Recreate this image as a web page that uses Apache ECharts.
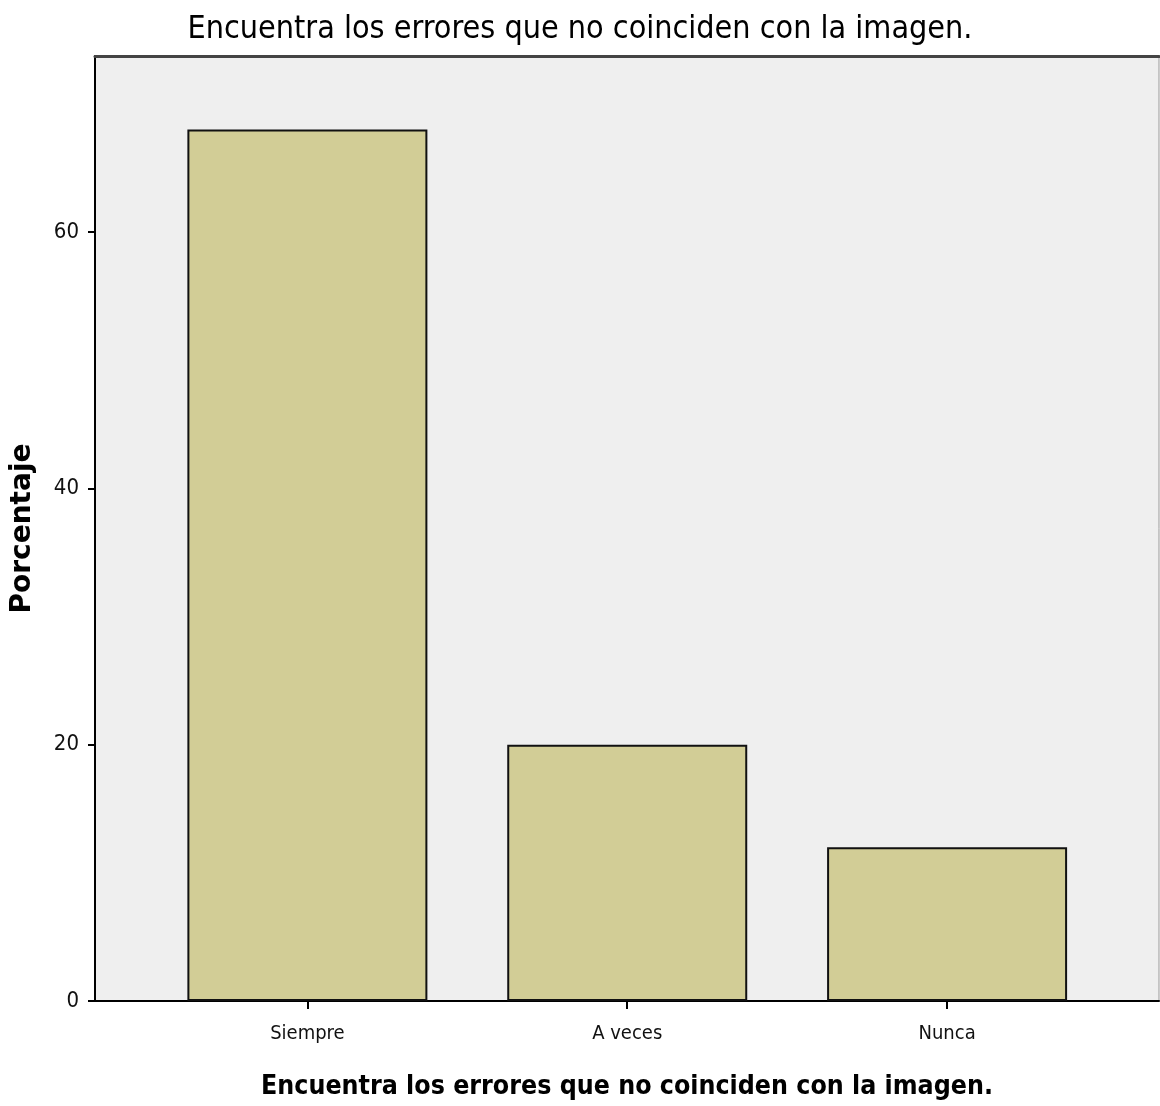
<!DOCTYPE html>
<html><head><meta charset="utf-8">
<script src="https://cdn.jsdelivr.net/npm/echarts@6/dist/echarts.min.js"></script>
<style>html,body{margin:0;padding:0;background:#fff}#c{width:1160px;height:1106px}</style>
</head><body><div id="c"></div>
<script>
const categories = ['Siempre', 'A veces', 'Nunca'];
const values = [68, 20, 12];
const yTicks = [0, 20, 40, 60];
const titleText = 'Encuentra los errores que no coinciden con la imagen.';
const xName = 'Encuentra los errores que no coinciden con la imagen.';
const yName = 'Porcentaje';

const NARROW = "'Liberation Sans Narrow', 'Arial Narrow', 'DejaVu Sans Condensed', 'Liberation Sans', sans-serif";
const chart = echarts.init(document.getElementById('c'));
const idx = categories.map((c, i) => i);
chart.setOption({
  animation: false,
  backgroundColor: '#ffffff',
  title: {
    text: titleText, left: 'center', top: 9,
    textStyle: { fontFamily: NARROW, fontSize: 32, fontWeight: 'normal', color: '#000' }
  },
  grid: { left: 95, right: 1, top: 56, bottom: 105, show: true, backgroundColor: '#efefef', borderColor: '#999', borderWidth: 1 },
  xAxis: [{
    type: 'value', min: -0.664, max: 2.6625,
    name: xName, nameLocation: 'middle', nameGap: 73,
    nameTextStyle: { fontFamily: NARROW, fontSize: 26.5, fontWeight: 'bold', color: '#000' },
    axisLine: { show: true, onZero: false, lineStyle: { color: '#000', width: 2 } },
    axisTick: { show: true, customValues: idx, length: 8, lineStyle: { color: '#000', width: 2 } },
    axisLabel: { customValues: idx, margin: 23, formatter: v => categories[Math.round(v)] || '',
      fontFamily: NARROW, fontSize: 20, color: '#111' },
    splitLine: { show: false }
  }, {
    type: 'value', min: -0.664, max: 2.6625, position: 'top',
    axisLine: { show: true, onZero: false, lineStyle: { color: '#444', width: 3 } },
    axisTick: { show: false }, axisLabel: { show: false }, splitLine: { show: false }
  }],
  yAxis: {
    type: 'value', min: 0, max: 73.73,
    name: yName, nameLocation: 'middle', nameGap: 58, nameRotate: 90,
    nameTextStyle: { fontFamily: 'DejaVu Sans', fontSize: 28, fontWeight: 'bold', color: '#000' },
    axisLine: { show: true, onZero: false, lineStyle: { color: '#000', width: 2 } },
    axisTick: { show: true, customValues: yTicks, length: 7, lineStyle: { color: '#000', width: 2 } },
    axisLabel: { customValues: yTicks, margin: 16, fontFamily: NARROW, fontSize: 22, color: '#111' },
    splitLine: { show: false }
  },
  series: [{
    type: 'bar', xAxisIndex: 0,
    data: idx.map(i => [i, values[i]]),
    barWidth: 240,
    itemStyle: { color: '#d2cd96', borderColor: '#111', borderWidth: 2 }
  }]
});
</script></body></html>
